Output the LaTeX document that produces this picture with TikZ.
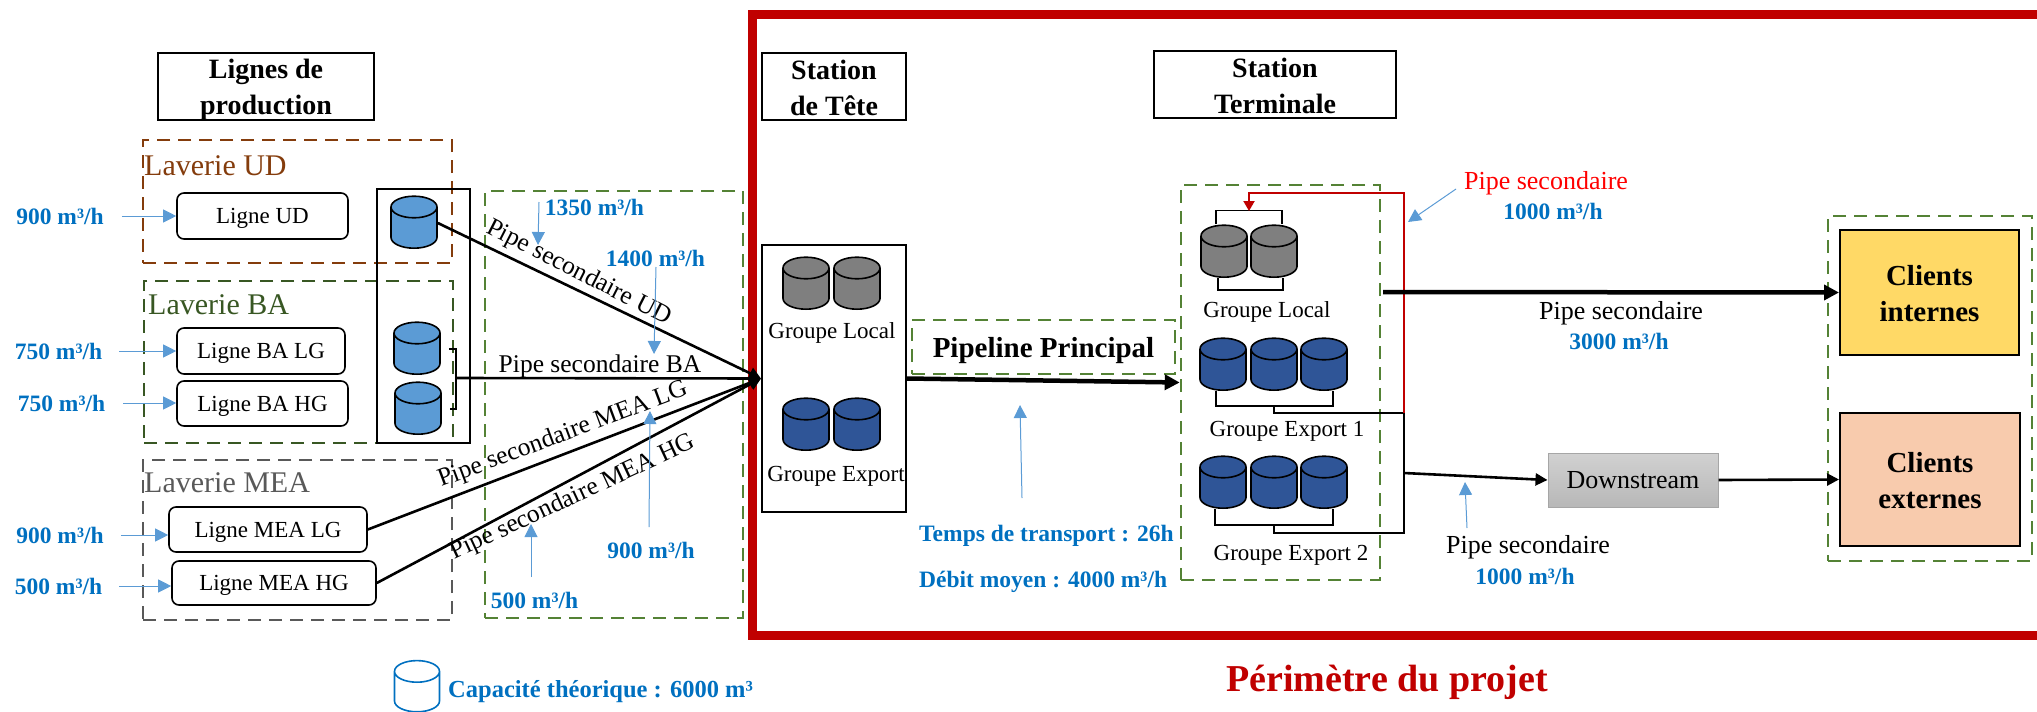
\documentclass[tikz,border=0pt]{standalone}
\usepackage{fontspec}
\setmainfont{Liberation Serif}
\usepackage{xcolor}
\usetikzlibrary{shapes.geometric, arrows.meta, positioning}
\definecolor{projetred}{HTML}{C00000}
\definecolor{udbrown}{HTML}{843C0C}
\definecolor{badark}{HTML}{385723}
\definecolor{meagray}{HTML}{595959}
\definecolor{dashgreen}{HTML}{548235}
\definecolor{flowblue}{HTML}{0070C0}
\definecolor{notearrow}{HTML}{5B9BD5}
\definecolor{tankgray}{HTML}{7F7F7F}
\definecolor{tanknavy}{HTML}{2F5597}
\definecolor{tanksky}{HTML}{5B9BD5}
\definecolor{internfill}{HTML}{FFD966}
\definecolor{externfill}{HTML}{F8CBAD}
\newcommand{\tanksize}{\phantom{\rule{24pt}{18pt}}}

\begin{document}
\begin{tikzpicture}[
    x=1pt, y=-1pt,
    titlebox/.style={rectangle, draw, line width=2pt, inner sep=0pt, align=center, text depth=0pt, font=\fontsize{28}{36}\selectfont\bfseries},
    storebox/.style={rectangle, draw, line width=2pt, inner sep=0pt},
    zone/.style={rectangle, draw, line width=2.6pt, dash pattern=on 13pt off 8pt, inner sep=0pt},
    ligne/.style={rectangle, rounded corners=7pt, draw, line width=1.6pt, inner sep=0pt, text depth=0pt, font=\fontsize{23}{28}\selectfont},
    client/.style={rectangle, draw, line width=2pt, inner sep=0pt, align=center, text height=59pt, font=\fontsize{29}{36}\selectfont\bfseries},
    zonelabel/.style={anchor=west, inner sep=0pt, font=\fontsize{30}{36}\selectfont},
    grouplabel/.style={inner sep=0pt, font=\fontsize{23}{28}\selectfont},
    pipelabel/.style={inner sep=0pt, font=\fontsize{25.5}{30}\selectfont},
    flow/.style={inner sep=0pt, text=flowblue, font=\fontsize{23.5}{28}\selectfont\bfseries},
    tank/.style={cylinder, shape border rotate=90, shape aspect=0.9, draw=black, line width=1.6pt, minimum width=46pt, minimum height=52pt, inner sep=0pt, yshift=-6pt, cylinder uses custom fill, cylinder body fill=#1, cylinder end fill=#1},
    pipe/.style={draw, line width=2.6pt, -{Triangle[length=12pt, width=12pt]}},
    mainpipe/.style={draw, line width=4.5pt, -{Triangle[length=15pt, width=15pt]}},
    link/.style={draw, line width=1.8pt},
    note/.style={draw=notearrow, line width=1pt, -{Triangle[length=13pt, width=13pt]}}
]
    \useasboundingbox (0,0) rectangle (2037,712);

    % Project frame
    \node[rectangle, draw=projetred, line width=9pt, minimum width=1288.5pt, minimum height=621pt, inner sep=0pt] (frame) at (1396.75,325) {};
    \node[inner sep=0pt, text=projetred, font=\fontsize{38}{44}\selectfont\bfseries] (perimetre) at (1387,682) {Périmètre du projet};

    % Titles
    \node[titlebox, minimum width=216pt, minimum height=67pt] (t_lignes) at (266,86.5) {Lignes de\\production};
    \node[titlebox, text height=58pt, minimum width=144pt, minimum height=67pt] (t_tete) at (834,86.5) {Station\\de Tête};
    \node[titlebox, text height=58pt, minimum width=242pt, minimum height=67pt] (t_term) at (1275,84.5) {Station\\Terminale};

    % Laveries
    \node[zone, draw=udbrown, minimum width=309pt, minimum height=123pt] (z_ud) at (297.5,201.5) {};
    \node[zone, draw=badark, minimum width=309pt, minimum height=162pt] (z_ba) at (298.5,362) {};
    \node[zone, draw=meagray, minimum width=309pt, minimum height=160pt] (z_mea) at (297.5,540) {};
    \node[zonelabel, text=udbrown] (l_ud) at (144,166) {Laverie UD};
    \node[zonelabel, text=badark] (l_ba) at (148,305) {Laverie BA};
    \node[zonelabel, text=meagray] (l_mea) at (144,483) {Laverie MEA};

    \node[ligne, minimum width=171pt, minimum height=46pt] (ligne_ud) at (262.5,216) {Ligne UD};
    \node[ligne, minimum width=168pt, minimum height=46pt] (ligne_balg) at (261,351) {Ligne BA LG};
    \node[ligne, minimum width=171pt, minimum height=45pt] (ligne_bahg) at (262.5,403.5) {Ligne BA HG};
    \node[ligne, minimum width=198pt, minimum height=45pt] (ligne_mealg) at (268,529.5) {Ligne MEA LG};
    \node[ligne, minimum width=204pt, minimum height=44pt] (ligne_meahg) at (274,583) {Ligne MEA HG};

    % Storage of the lines
    \node[storebox, minimum width=93pt, minimum height=254pt] (s_lignes) at (423.5,316) {};
    \node[tank=tanksky] (tank_ud) at (414,222) {\tanksize};
    \node[tank=tanksky] (tank_ba1) at (417,348) {\tanksize};
    \node[tank=tanksky] (tank_ba2) at (418,408) {\tanksize};
    \coordinate (ba_out) at (456,378);
    \draw[link] ([xshift=8pt,yshift=5pt]tank_ba1.east) -| (ba_out) |- ([xshift=8pt,yshift=5pt]tank_ba2.east);

    % Pipes zone
    \node[zone, draw=dashgreen, minimum width=258pt, minimum height=427pt] (z_pipes) at (614,404.5) {};

    % Station de tete
    \node[storebox, minimum width=144pt, minimum height=267pt] (tete) at (834,378.5) {};
    \node[tank=tankgray] (tete_l1) at (806,283) {\tanksize};
    \node[tank=tankgray] (tete_l2) at (857,283) {\tanksize};
    \node[tank=tanknavy] (tete_e1) at (806,424) {\tanksize};
    \node[tank=tanknavy] (tete_e2) at (857,424) {\tanksize};
    \node[grouplabel] (g_tl) at (832,333) {Groupe Local};
    \node[grouplabel] (g_te) at (836,476) {Groupe Export};

    % Secondary pipes
    \draw[pipe] ([yshift=5pt]tank_ud.east) -- (tete.west);
    \draw[pipe] (ba_out) -- (tete.west);
    \draw[pipe] (ligne_mealg.east) -- (tete.west);
    \draw[pipe] (ligne_meahg.east) -- (tete.west);
    \node[pipelabel, rotate=-27] (p_ud) at (579,273) {Pipe secondaire UD};
    \node[pipelabel] (p_ba) at (600,366) {Pipe secondaire BA};
    \node[pipelabel, rotate=20.5] (p_mealg) at (563,435) {Pipe secondaire MEA LG};
    \node[pipelabel, rotate=25] (p_meahg) at (573,498) {Pipe secondaire MEA HG};

    % Pipeline
    \node[zone, draw=dashgreen, minimum width=263pt, minimum height=54pt, text depth=0pt, font=\fontsize{29}{34}\selectfont\bfseries] (z_pipeline) at (1043.5,347) {Pipeline Principal};

    % Station terminale
    \node[zone, draw=dashgreen, minimum width=199pt, minimum height=395pt] (terminal) at (1280.5,382.5) {};
    \draw[mainpipe] (tete.east) -- (terminal.west);
    \node[tank=tankgray] (gl_1) at (1224,251) {\tanksize};
    \node[tank=tankgray] (gl_2) at (1274,251) {\tanksize};
    \node[tank=tanknavy] (ga_1) at (1223,364) {\tanksize};
    \node[tank=tanknavy] (ga_2) at (1274,364) {\tanksize};
    \node[tank=tanknavy] (ga_3) at (1324,364) {\tanksize};
    \node[tank=tanknavy] (gb_1) at (1223,482) {\tanksize};
    \node[tank=tanknavy] (gb_2) at (1274,482) {\tanksize};
    \node[tank=tanknavy] (gb_3) at (1324,482) {\tanksize};
    \node[grouplabel] (g_l) at (1267,312) {Groupe Local};
    \node[grouplabel] (g_a) at (1287,431) {Groupe Export 1};
    \node[grouplabel] (g_b) at (1291,555) {Groupe Export 2};

    % Terminal piping
    \coordinate (junction) at (1404,413);
    \coordinate (red_top) at (1404,193);
    \coordinate (gl_in) at (1249,211);
    \coordinate (ga_mid) at (1274,405);
    \coordinate (gb_mid) at (1274,524);
    \coordinate (gb_corner) at (1404,533);
    \coordinate (ds_out) at (1404,473);
    \coordinate (int_out) at (1383,292);
    \draw[link] ([xshift=-8pt]gl_1.north) -- ++(0,-14) -| ([xshift=8pt]gl_2.north);
    \draw[link] ([xshift=-6pt]gl_1.south) -- ++(0,12) -| ([xshift=9pt]gl_2.south);
    \draw[link] ([xshift=-7pt]ga_1.south) -- ++(0,15) -| ([xshift=9pt]ga_3.south);
    \draw[link] ([xshift=-8pt]gb_1.south) -- ++(0,16) -| ([xshift=9pt]gb_3.south);
    \draw[link] (ga_mid) |- (junction);
    \draw[link] (gb_mid) |- (gb_corner) -- (junction);
    \draw[draw=projetred, line width=2pt, -{Triangle[length=10pt, width=11pt]}] (junction) -- (red_top) -| (gl_in);

    % Clients
    \node[zone, draw=dashgreen, minimum width=204pt, minimum height=345pt] (z_clients) at (1930,388.5) {};
    \node[client, fill=internfill, minimum width=179pt, minimum height=125pt] (c_int) at (1929.5,292.5) {Clients\\internes};
    \node[client, fill=externfill, minimum width=180pt, minimum height=133pt] (c_ext) at (1930,479.5) {Clients\\externes};
    \node[rectangle, draw=black!35, line width=1pt, top color=black!18, bottom color=black!28, minimum width=170pt, minimum height=54pt, inner sep=0pt, font=\fontsize{26}{30}\selectfont] (downstream) at (1633,480) {Downstream};
    \draw[mainpipe] (int_out) -- (c_int.west);
    \draw[pipe] (ds_out) -- (downstream.west);
    \draw[pipe] (downstream.east) -- (c_ext.west);

    \node[pipelabel, text=red, font=\fontsize{26}{30}\selectfont] (p_red) at (1546,183) {Pipe secondaire};
    \node[flow] (f_red) at (1553,211) {1000 m³/h};
    \node[pipelabel, font=\fontsize{26}{30}\selectfont] (p_int) at (1621,313) {Pipe secondaire};
    \node[flow] (f_int) at (1619,341) {3000 m³/h};
    \node[pipelabel, font=\fontsize{26}{30}\selectfont] (p_ds) at (1528,547) {Pipe secondaire};
    \node[flow] (f_ds) at (1525,576) {1000 m³/h};

    % Flow rates
    \node[flow] (f_ud) at (60,216) {900 m³/h};
    \node[flow] (f_balg) at (58.5,351) {750 m³/h};
    \node[flow] (f_bahg) at (61.5,403) {750 m³/h};
    \node[flow] (f_mealg) at (60,535) {900 m³/h};
    \node[flow] (f_meahg) at (58.5,586) {500 m³/h};
    \node[flow] (f_1350) at (594.5,207) {1350 m³/h};
    \node[flow] (f_1400) at (655.5,258) {1400 m³/h};
    \node[flow] (f_900) at (651,550) {900 m³/h};
    \node[flow] (f_500) at (534.5,600) {500 m³/h};
    \node[flow, anchor=west] (f_temps) at (919,536) {Temps de transport : 26h};
    \node[flow, anchor=west] (f_debit) at (919,582) {Débit moyen : 4000 m³/h};

    % Note arrows
    \draw[note] ([xshift=18pt]f_ud.east) -- (ligne_ud.west |- f_ud.east);
    \draw[note] ([xshift=17pt]f_balg.east) -- (ligne_balg.west |- f_balg.east);
    \draw[note] ([xshift=18pt]f_bahg.east) -- (ligne_bahg.west |- f_bahg.east);
    \draw[note] ([xshift=17pt]f_mealg.east) -- (ligne_mealg.west |- f_mealg.east);
    \draw[note] ([xshift=17pt]f_meahg.east) -- (ligne_meahg.west |- f_meahg.east);
    \coordinate (n1350a) at (539,202);
    \coordinate (n1350b) at (538,245);
    \coordinate (n1400a) at (656,267);
    \coordinate (n1400b) at (654,354);
    \coordinate (n900a) at (649,527);
    \coordinate (n900b) at (650,411);
    \coordinate (n500a) at (531,577);
    \coordinate (n500b) at (531,524);
    \coordinate (npipea) at (1022,498);
    \coordinate (npipeb) at (1020,405);
    \coordinate (nreda) at (1456,189);
    \coordinate (nredb) at (1408,222);
    \coordinate (ndsa) at (1467,528);
    \coordinate (ndsb) at (1465,482);
    \draw[note] (n1350a) -- (n1350b);
    \draw[note] (n1400a) -- (n1400b);
    \draw[note] (n900a) -- (n900b);
    \draw[note] (n500a) -- (n500b);
    \draw[note] (npipea) -- (npipeb);
    \draw[note] (nreda) -- (nredb);
    \draw[note] (ndsa) -- (ndsb);

    % Legend
    \node[cylinder, shape border rotate=90, shape aspect=0.9, draw=flowblue, line width=1.6pt, minimum width=45pt, minimum height=51pt, inner sep=0pt, yshift=-6pt, fill=white] (legend) at (417,686) {\tanksize};
    \node[flow, anchor=west, font=\fontsize{24.5}{28}\selectfont\bfseries] (f_legend) at (448,692) {Capacité théorique : 6000 m³};
\end{tikzpicture}
\end{document}
